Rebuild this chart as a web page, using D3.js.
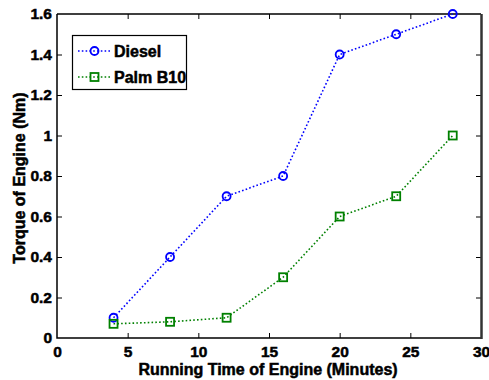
<!DOCTYPE html>
<html>
<head>
<meta charset="utf-8">
<script src="https://cdn.jsdelivr.net/npm/d3@7"></script>
<style>
  html, body { margin: 0; padding: 0; background: #fff; }
</style>
</head>
<body>
<svg id="chart" width="489" height="380"></svg>
<script>
// Running time (minutes) and engine torque (Nm) for each fuel
const minutes = [4, 8, 12, 16, 20, 24, 28];
const diesel = [0.1, 0.4, 0.7, 0.8, 1.4, 1.5, 1.6];
const palmB10 = [0.07, 0.08, 0.1, 0.3, 0.6, 0.7, 1.0];
const xTicks = [0, 5, 10, 15, 20, 25, 30];
const yTicks = [0, 0.2, 0.4, 0.6, 0.8, 1, 1.2, 1.4, 1.6];

const series = [
  { name: "Diesel", values: diesel, color: "#0000ff", marker: "circle" },
  { name: "Palm B10", values: palmB10, color: "#008000", marker: "square" }
];

const FONT = "'Liberation Sans', Arial, Helvetica, sans-serif";
const FS = 16;

const svg = d3.select("#chart");
const m = { left: 57, right: 481, top: 14, bottom: 338 };

const x = d3.scaleLinear().domain([0, 30]).range([m.left, m.right]);
const y = d3.scaleLinear().domain([0, 1.6]).range([m.bottom, m.top]);

const tickLen = 5;

function styleText(sel, size = FS) {
  return sel.attr("font-family", FONT).attr("font-weight", "bold")
    .attr("font-size", size).attr("fill", "#000")
    .attr("stroke", "#000").attr("stroke-width", 0.5);
}

// Axes with inward ticks, mirrored on the top and right edges
const axB = svg.append("g").attr("transform", `translate(0,${m.bottom})`)
  .call(d3.axisBottom(x).tickValues(xTicks).tickSizeInner(-tickLen).tickSizeOuter(0).tickPadding(8).tickFormat(d3.format("d")));
const axT = svg.append("g").attr("transform", `translate(0,${m.top})`)
  .call(d3.axisTop(x).tickValues(xTicks).tickSizeInner(-tickLen).tickSizeOuter(0).tickFormat(""));
const axL = svg.append("g").attr("transform", `translate(${m.left},0)`)
  .call(d3.axisLeft(y).tickValues(yTicks).tickSizeInner(-tickLen).tickSizeOuter(0).tickPadding(5).tickFormat(d => d === 0 || d === 1 ? String(d) : d3.format(".1f")(d)));
const axR = svg.append("g").attr("transform", `translate(${m.right},0)`)
  .call(d3.axisRight(y).tickValues(yTicks).tickSizeInner(-tickLen).tickSizeOuter(0).tickFormat(""));

[axB, axT, axL, axR].forEach(g => {
  g.attr("font-family", null).attr("font-size", null);
  g.select(".domain").remove();
  g.selectAll(".tick line").attr("stroke", "#000").attr("stroke-width", 1);
  styleText(g.selectAll(".tick text"), 15.5);
});
// Remove end ticks that sit on the box edges
[axB, axT].forEach(g => g.selectAll(".tick").filter(d => d === 0 || d === 30).select("line").remove());
[axL, axR].forEach(g => g.selectAll(".tick").filter(d => d === 0 || d === 1.6).select("line").remove());

// Plot frame
svg.append("path")
  .attr("d", `M${m.left},${m.top}H${m.right}M${m.left},${m.top}V${m.bottom}H${m.right}`)
  .attr("fill", "none").attr("stroke", "#000").attr("stroke-width", 1.5);
svg.append("line")
  .attr("x1", m.right + 0.5).attr("x2", m.right + 0.5).attr("y1", m.top).attr("y2", m.bottom + 1)
  .attr("stroke", "#333").attr("stroke-width", 2.5);

// Series lines and markers
const line = d3.line().x((d, i) => x(minutes[i])).y(d => y(d));

function drawMarker(g, type, cx, cy, color) {
  if (type === "circle") {
    g.append("circle").attr("cx", cx).attr("cy", cy).attr("r", 4)
      .attr("fill", "none").attr("stroke", color).attr("stroke-width", 1.8);
  } else {
    g.append("rect").attr("x", cx - 4).attr("y", cy - 4).attr("width", 8).attr("height", 8)
      .attr("fill", "none").attr("stroke", color).attr("stroke-width", 1.8);
  }
}

series.forEach(s => {
  const g = svg.append("g");
  g.append("path").attr("d", line(s.values))
    .attr("fill", "none").attr("stroke", s.color).attr("stroke-width", 1.6)
    .attr("stroke-dasharray", "1.6,2.2");
  s.values.forEach((v, i) => drawMarker(g, s.marker, x(minutes[i]), y(v), s.color));
});

// Legend
const lg = svg.append("g");
lg.append("rect").attr("x", 72.5).attr("y", 35.5).attr("width", 114).attr("height", 54)
  .attr("fill", "#fff").attr("stroke", "#000").attr("stroke-width", 1.2);
series.forEach((s, i) => {
  const ly = 51 + i * 26;
  lg.append("line").attr("x1", 78).attr("x2", 111).attr("y1", ly).attr("y2", ly)
    .attr("stroke", s.color).attr("stroke-width", 1.6).attr("stroke-dasharray", "1.6,2.2");
  drawMarker(lg, s.marker, 94.5, ly, s.color);
  styleText(lg.append("text")).attr("x", 114).attr("y", ly + 5.5).text(s.name);
});

// Axis titles
styleText(svg.append("text")).attr("x", (m.left + m.right) / 2 - 1).attr("y", 375)
  .attr("text-anchor", "middle").text("Running Time of Engine (Minutes)");
styleText(svg.append("text")).attr("transform", `translate(25,${(m.top + m.bottom) / 2 + 2}) rotate(-90)`)
  .attr("text-anchor", "middle").text("Torque of Engine (Nm)");
</script>
</body>
</html>
